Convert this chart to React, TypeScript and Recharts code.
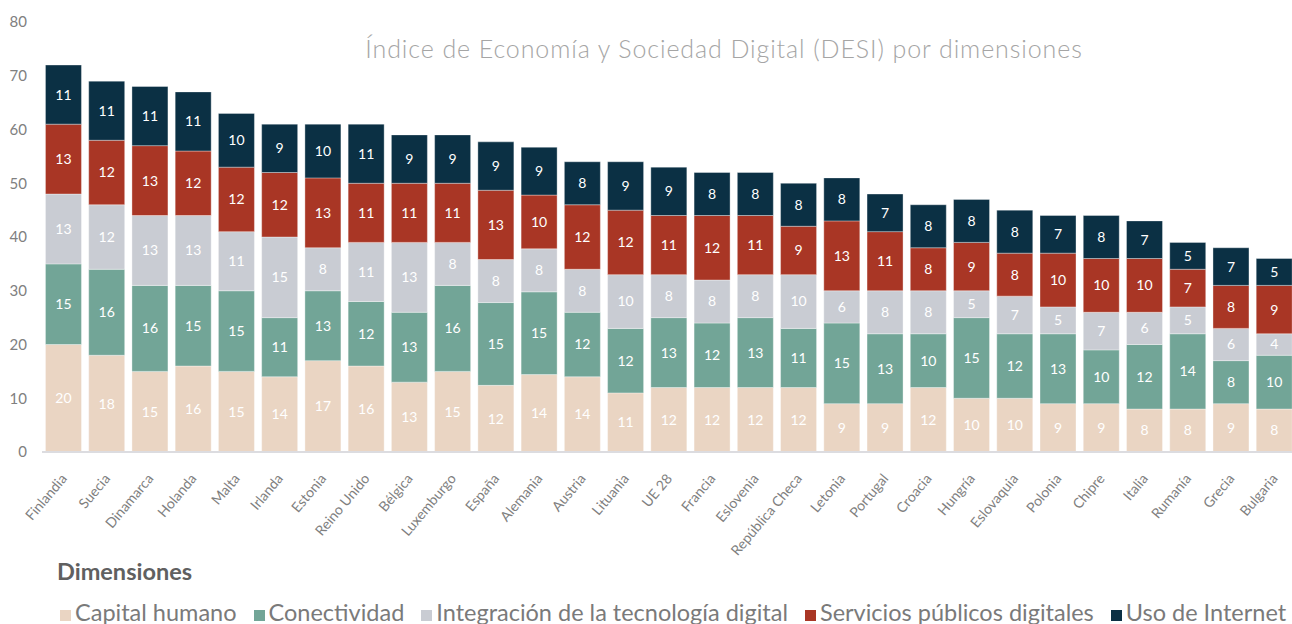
import { BarChart, Bar, XAxis, YAxis, Legend, LabelList } from 'recharts';

const categories = [
  'Finlandia', 'Suecia', 'Dinamarca', 'Holanda', 'Malta', 'Irlanda', 'Estonia', 'Reino Unido',
  'Bélgica', 'Luxemburgo', 'España', 'Alemania', 'Austria', 'Lituania', 'UE 28', 'Francia',
  'Eslovenia', 'República Checa', 'Letonia', 'Portugal', 'Croacia', 'Hungría', 'Eslovaquia',
  'Polonia', 'Chipre', 'Italia', 'Rumanía', 'Grecia', 'Bulgaria',
];

const capitalHumano = [20, 18, 15, 16, 15, 14, 17, 16, 13, 15, 12.4, 14.4, 14, 11, 12, 12, 12, 12, 9, 9, 12, 10, 10, 9, 9, 8, 8, 9, 8];
const conectividad = [15, 16, 16, 15, 15, 11, 13, 12, 13, 16, 15.4, 15.4, 12, 12, 13, 12, 13, 11, 15, 13, 10, 15, 12, 13, 10, 12, 14, 8, 10];
const integracion = [13, 12, 13, 13, 11, 15, 8, 11, 13, 8, 8, 8, 8, 10, 8, 8, 8, 10, 6, 8, 8, 5, 7, 5, 7, 6, 5, 6, 4];
const servicios = [13, 12, 13, 12, 12, 12, 13, 11, 11, 11, 12.9, 10, 12, 12, 11, 12, 11, 9, 13, 11, 8, 9, 8, 10, 10, 10, 7, 8, 9];
const usoInternet = [11, 11, 11, 11, 10, 9, 10, 11, 9, 9, 9, 8.9, 8, 9, 9, 8, 8, 8, 8, 7, 8, 8, 8, 7, 8, 7, 5, 7, 5];

const yTicks = [0, 10, 20, 30, 40, 50, 60, 70, 80];

const SERIES = [
  { key: 'capital', name: 'Capital humano', color: '#ead5c3' },
  { key: 'conectividad', name: 'Conectividad', color: '#72a597' },
  { key: 'integracion', name: 'Integración de la tecnología digital', color: '#c9ccd3' },
  { key: 'servicios', name: 'Servicios públicos digitales', color: '#a93625' },
  { key: 'internet', name: 'Uso de Internet', color: '#0b3044' },
];

const data = categories.map((name, i) => ({
  name,
  capital: capitalHumano[i],
  conectividad: conectividad[i],
  integracion: integracion[i],
  servicios: servicios[i],
  internet: usoInternet[i],
}));

const FONT = 'Lato, "Noto Sans", sans-serif';

const CountryTick = ({ x, y, payload }: any) => (
  <g transform={`translate(${x + 4},${y + 27})`}>
    <text textAnchor="end" transform="rotate(-50)" fill="#7f7f7f" fontSize={14} fontFamily={FONT}>
      {payload.value}
    </text>
  </g>
);

const LegendBox = () => (
  <div style={{ position: 'relative', height: 88, width: 1300, fontFamily: FONT }}>
    <div style={{ position: 'absolute', left: 57, top: 6, fontSize: 23.5, lineHeight: '27px', color: '#606060', fontWeight: 700 }}>
      Dimensiones
    </div>
    <div style={{ position: 'absolute', left: 60, top: 46, display: 'flex', whiteSpace: 'nowrap', fontSize: 23.5, lineHeight: '28px', color: '#7a7a7a' }}>
      {SERIES.map(s => (
        <div key={s.key} style={{ display: 'flex', alignItems: 'center', marginRight: 17 }}>
          <span style={{ display: 'inline-block', width: 11, height: 11, background: s.color, marginRight: 4, marginTop: 6 }} />
          <span>{s.name}</span>
        </div>
      ))}
    </div>
  </div>
);

export default function App() {
  return (
    <div style={{ position: 'absolute', left: 0, top: 0, width: 1292, height: 624, overflow: 'hidden', background: '#fff' }}>
      <div style={{ position: 'absolute', left: 224, top: 33, width: 1000, textAlign: 'center', fontFamily: FONT, fontSize: 25, letterSpacing: 0.9, lineHeight: '30px', fontWeight: 300, color: '#a5a5a5', whiteSpace: 'nowrap', zIndex: 2 }}>
        Índice de Economía y Sociedad Digital (DESI) por dimensiones
      </div>
      <BarChart width={1300} height={640} data={data} margin={{ top: 22, right: 4, left: 0, bottom: 0 }} barCategoryGap="8%">
        <XAxis
          dataKey="name"
          interval={0}
          height={100}
          tickSize={0}
          tickMargin={0}
          tickLine={false}
          axisLine={{ stroke: '#dcdce0', strokeWidth: 2 }}
          tick={<CountryTick />}
        />
        <YAxis
          width={42}
          domain={[0, 80]}
          ticks={yTicks}
          axisLine={false}
          tickLine={false}
          tickMargin={9}
          tick={{ fill: '#808080', fontSize: 15, fontFamily: FONT }}
        />
        <Legend verticalAlign="bottom" content={<LegendBox />} wrapperStyle={{ left: 0, top: 552 }} />
        {SERIES.map(s => (
          <Bar key={s.key} dataKey={s.key} name={s.name} stackId="a" fill={s.color} stroke="rgba(255,255,255,0.35)" strokeWidth={1} isAnimationActive={false}>
            <LabelList dataKey={s.key} position="center" fill="#ffffff" fontSize={14} fontFamily={FONT} formatter={(v: any) => Math.round(Number(v))} />
          </Bar>
        ))}
      </BarChart>
    </div>
  );
}
